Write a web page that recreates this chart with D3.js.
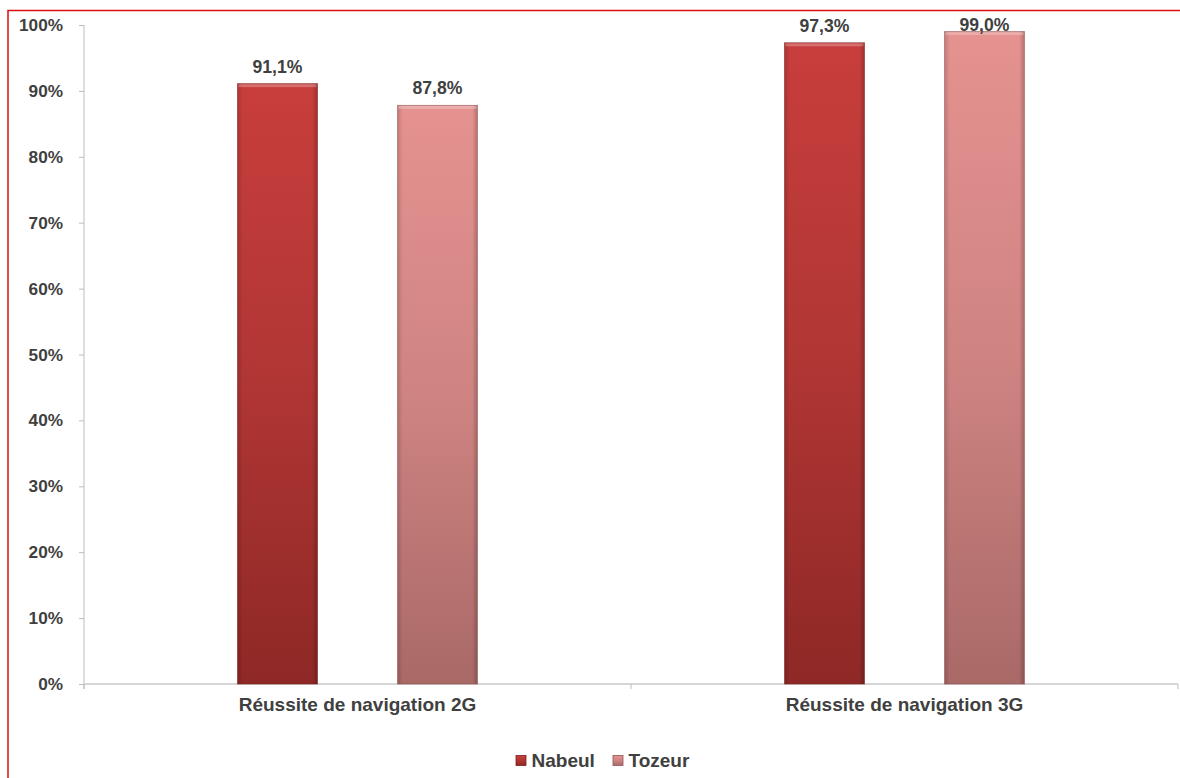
<!DOCTYPE html>
<html><head><meta charset="utf-8">
<script src="https://cdn.jsdelivr.net/npm/d3@7"></script>
<style>
html,body{margin:0;padding:0;background:#fff;overflow:hidden;}
svg{display:block;font-family:"Liberation Sans",Arial,sans-serif;}
</style></head>
<body>
<svg id="chart" width="1180" height="778"></svg>
<script>
const categories = ["Réussite de navigation 2G", "Réussite de navigation 3G"];
const seriesNames = ["Nabeul", "Tozeur"];
const nabeul = [0.911, 0.973];
const tozeur = [0.878, 0.990];
const valueLabels = [["91,1%", "97,3%"], ["87,8%", "99,0%"]];
const yTicks = [0, 0.1, 0.2, 0.3, 0.4, 0.5, 0.6, 0.7, 0.8, 0.9, 1.0];

(function () {
const svg = d3.select("#chart");
const mLeft = 84, mRight = 1178, mTop = 25, mBottom = 684;

// colours per series: [top, mid, bottom, stroke]
const palettes = [
  ["#c83e3c", "#b03634", "#8e2826", "#7a2220"],
  ["#e59290", "#cf8482", "#a96967", "#8e5553"]
];

const defs = svg.append("defs");
palettes.forEach((p, i) => {
  const g = defs.append("linearGradient").attr("id", "grad" + i)
    .attr("x1", 0).attr("y1", 0).attr("x2", 0).attr("y2", 1);
  g.append("stop").attr("offset", "0%").attr("stop-color", p[0]);
  g.append("stop").attr("offset", "50%").attr("stop-color", p[1]);
  g.append("stop").attr("offset", "100%").attr("stop-color", p[2]);
  const h = defs.append("linearGradient").attr("id", "side" + i)
    .attr("x1", 0).attr("y1", 0).attr("x2", 1).attr("y2", 0);
  h.append("stop").attr("offset", "0%").attr("stop-color", "#000").attr("stop-opacity", 0.14);
  h.append("stop").attr("offset", "6%").attr("stop-color", "#000").attr("stop-opacity", 0);
  h.append("stop").attr("offset", "94%").attr("stop-color", "#000").attr("stop-opacity", 0);
  h.append("stop").attr("offset", "100%").attr("stop-color", "#000").attr("stop-opacity", 0.2);
});

// frame
svg.append("rect").attr("x", 8).attr("y", 10.5).attr("width", 1300).attr("height", 900)
  .attr("fill", "none").attr("stroke", "#d81010").attr("stroke-width", 1.5);

const y = d3.scaleLinear().domain([0, 1]).range([mBottom, mTop]);
const x0 = d3.scaleBand().domain(categories).range([mLeft, mRight]).paddingInner(0).paddingOuter(0);
const x1 = d3.scaleBand().domain(seriesNames).range([x0.bandwidth()/2 - 120, x0.bandwidth()/2 + 120]).paddingInner(0.5).paddingOuter(0);

// y axis
const yAxis = svg.append("g").attr("transform", `translate(${mLeft},0)`)
  .call(d3.axisLeft(y).tickValues(yTicks).tickSize(5).tickPadding(16).tickFormat(d3.format(".0%")));
yAxis.select(".domain").attr("stroke", "#bdbdbd").attr("d", `M0,${mTop}V${mBottom + 5}`);
yAxis.selectAll(".tick line").attr("stroke", "#bdbdbd");
yAxis.selectAll(".tick text").attr("fill", "#404040").attr("font-size", 17.2).attr("font-weight", "bold");

// x axis
const xAxis = svg.append("g").attr("transform", `translate(0,${mBottom})`)
  .call(d3.axisBottom(x0).tickSize(0).tickPadding(13.5));
xAxis.select(".domain").attr("stroke", "#c8c8c8").attr("stroke-width", 1.5).attr("d", `M${mLeft},0H${mRight}`);
xAxis.selectAll(".tick text").attr("fill", "#404040").attr("font-size", 19).attr("font-weight", "bold");
const bounds = [mLeft, mLeft + x0.bandwidth(), mRight];
xAxis.selectAll(".bound").data(bounds).join("line").attr("class", "bound")
  .attr("x1", d => d).attr("x2", d => d).attr("y1", 0).attr("y2", 5).attr("stroke", "#bdbdbd");

// bars
const series = [nabeul, tozeur];
const data = [];
categories.forEach((c, ci) => seriesNames.forEach((s, si) => {
  data.push({c, s, si, v: series[si][ci], label: valueLabels[si][ci]});
}));

const bars = svg.append("g").selectAll("g").data(data).join("g")
  .attr("transform", d => `translate(${x0(d.c) + x1(d.s)},0)`);
const bw = x1.bandwidth();
bars.append("rect").attr("x", 0).attr("y", d => y(d.v)).attr("width", bw)
  .attr("height", d => mBottom - y(d.v))
  .attr("fill", d => `url(#grad${d.si})`)
  .attr("stroke", d => palettes[d.si][3]).attr("stroke-width", 1).attr("stroke-opacity", 0.6);
bars.append("rect").attr("x", 0.5).attr("y", d => y(d.v)).attr("width", bw - 1)
  .attr("height", d => mBottom - y(d.v)).attr("fill", d => `url(#side${d.si})`);
bars.append("rect").attr("x", 1).attr("y", d => y(d.v) + 0.5).attr("width", bw - 2).attr("height", 3)
  .attr("fill", "#fff").attr("fill-opacity", 0.25);
bars.append("text").attr("x", bw / 2).attr("y", d => Math.max(y(d.v) - 11, 31))
  .attr("text-anchor", "middle").attr("fill", "#404040")
  .attr("font-size", 17.6).attr("font-weight", "bold").text(d => d.label);

// legend
const legendX = [516, 613];
const lg = svg.append("g").selectAll("g").data(seriesNames).join("g")
  .attr("transform", (d, i) => `translate(${legendX[i]},755.5)`);
lg.append("rect").attr("width", 10).attr("height", 10)
  .attr("fill", (d, i) => `url(#grad${i})`).attr("stroke", (d, i) => palettes[i][3]).attr("stroke-width", 0.8);
lg.append("text").attr("x", 15.5).attr("y", 5).attr("dy", "0.35em")
  .attr("fill", "#404040").attr("font-size", 19).attr("font-weight", "bold").text(d => d);
})();
</script>
</body></html>
